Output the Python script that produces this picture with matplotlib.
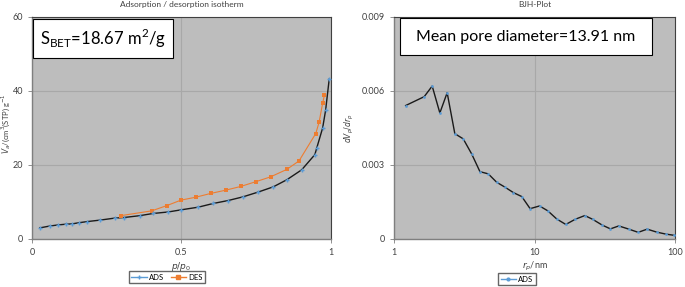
import matplotlib
matplotlib.use("Agg")
import matplotlib.pyplot as plt
from matplotlib.patches import Rectangle
from matplotlib.ticker import FixedLocator, NullLocator, FuncFormatter

plt.rcParams['font.family'] = ['Lato', 'DejaVu Sans']

# adsorption / desorption isotherm
ads_p = [0.026, 0.059, 0.087, 0.113, 0.135, 0.157, 0.184, 0.227, 0.277, 0.307,
         0.36, 0.405, 0.455, 0.5, 0.556, 0.606, 0.656, 0.706, 0.757, 0.807,
         0.852, 0.902, 0.946, 0.952, 0.972, 0.982, 0.994]
ads_v = [3.0, 3.5, 3.8, 4.0, 4.1, 4.4, 4.7, 5.1, 5.65, 5.8,
         6.3, 6.9, 7.3, 7.9, 8.6, 9.6, 10.4, 11.4, 12.7, 14.1,
         16.0, 18.7, 22.8, 24.5, 30.0, 34.8, 43.2]
des_p = [0.296, 0.40, 0.45, 0.498, 0.548, 0.597, 0.648, 0.698, 0.749, 0.798,
         0.852, 0.893, 0.949, 0.96, 0.972, 0.978]
des_v = [6.3, 7.6, 9.0, 10.5, 11.3, 12.3, 13.2, 14.2, 15.5, 16.8,
         18.8, 21.1, 28.5, 31.5, 36.7, 38.9]

# BJH pore size distribution
bjh_r = [1.21, 1.64, 1.87, 2.12, 2.39, 2.71, 3.11, 3.57, 4.09, 4.69,
         5.38, 6.17, 7.08, 8.12, 9.31, 10.86, 12.45, 14.4, 16.7, 19.5,
         22.8, 25.9, 30.2, 34.7, 39.8, 46.9, 54.7, 63.4, 74.0, 85.8, 98.4]
bjh_dv = [0.00541, 0.00577, 0.0062, 0.00511, 0.00593, 0.00427, 0.00406, 0.00345,
          0.00273, 0.00264, 0.0023, 0.0021, 0.00188, 0.00172, 0.00123, 0.00134,
          0.00114, 0.00081, 0.00059, 0.0008, 0.00095, 0.0008, 0.00057, 0.00041,
          0.00053, 0.0004, 0.00027, 0.0004, 0.00028, 0.0002, 0.00015]

bg = "#bdbdbd"
grid_c = "#a8a8a8"
blue = "#5b9bd5"
orange = "#ed7d31"
line_c = "#1a1a1a"
txt_c = "#404040"


def style_axes(ax):
    ax.set_facecolor(bg)
    ax.grid(True, color=grid_c, linewidth=0.8)
    ax.set_axisbelow(True)
    for s in ["left", "bottom"]:
        ax.spines[s].set_color("#7f7f7f")
        ax.spines[s].set_linewidth(1.0)
    for s in ["top", "right"]:
        ax.spines[s].set_color("#404040")
        ax.spines[s].set_linewidth(0.8)
    ax.tick_params(axis="both", labelsize=6.5, colors="#7f7f7f", length=3,
                   width=0.6, direction="out", labelcolor=txt_c)


def label_box(ax, x0, y0, x1, y1, text, size):
    ax.add_patch(Rectangle((x0, y0), x1 - x0, y1 - y0, transform=ax.transAxes,
                           facecolor="white", edgecolor="black", linewidth=0.8, zorder=5))
    ax.text((x0 + x1) / 2, (y0 + y1) / 2, text, transform=ax.transAxes, fontsize=size,
            ha="center", va="center", zorder=6)


fig = plt.figure(figsize=(6.85, 2.87), dpi=100)

ax1 = fig.add_axes([32 / 685, 48 / 287, 299 / 685, 222 / 287])
style_axes(ax1)
ax1.plot(ads_p, ads_v, color=line_c, linewidth=1.0, zorder=2)
ax1.plot(ads_p, ads_v, linestyle="none", marker="+", color=blue, markersize=3.5,
         markeredgewidth=1.0, zorder=3)
ax1.plot(des_p, des_v, color=orange, linewidth=0.8, marker="s", markersize=3,
         markeredgewidth=0, zorder=2)
ax1.set_xlim(0, 1)
ax1.set_ylim(0, 60)
ax1.xaxis.set_major_locator(FixedLocator([0, 0.5, 1]))
ax1.yaxis.set_major_locator(FixedLocator([0, 20, 40, 60]))
ax1.xaxis.set_major_formatter(FuncFormatter(lambda v, p: "%g" % v))
ax1.set_title("Adsorption / desorption isotherm", fontsize=6, color=txt_c, pad=7)
ax1.set_xlabel("$p/p_0$", fontsize=6.5, color=txt_c, labelpad=2)
ax1.set_ylabel("$V_a$/(cm$^3$(STP) g$^{-1}$", fontsize=5.5, color=txt_c)
ax1.yaxis.set_label_coords(-0.062, 0.52)
label_box(ax1, 0.004, 0.815, 0.472, 0.991,
          "S$_\\mathregular{BET}$=18.67 m$^\\mathregular{2}$/g", 12)

h_ads, = ax1.plot([], [], color=blue, linewidth=1.0, marker="+", markersize=3.5)
h_des, = ax1.plot([], [], color=orange, linewidth=1.0, marker="s", markersize=3)
fig.legend([h_ads, h_des], ["ADS", "DES"], loc="center", bbox_to_anchor=(167 / 685, 1 - 277 / 287),
           ncol=2, fontsize=5.5, frameon=True, fancybox=False, edgecolor=txt_c,
           handlelength=2.0, columnspacing=0.9, handletextpad=0.3, borderpad=0.35)

ax2 = fig.add_axes([394 / 685, 48 / 287, 281 / 685, 222 / 287])
style_axes(ax2)
ax2.set_xscale("log")
ax2.plot(bjh_r, bjh_dv, color=line_c, linewidth=1.0, zorder=2)
ax2.plot(bjh_r, bjh_dv, linestyle="none", marker="o", color=blue, markersize=2,
         markeredgewidth=0, zorder=3)
ax2.set_xlim(1, 100)
ax2.set_ylim(0, 0.009)
ax2.xaxis.set_major_locator(FixedLocator([1, 10, 100]))
ax2.xaxis.set_minor_locator(NullLocator())
ax2.xaxis.set_major_formatter(FuncFormatter(lambda v, p: "%g" % v))
ax2.yaxis.set_major_locator(FixedLocator([0, 0.003, 0.006, 0.009]))
ax2.yaxis.set_major_formatter(FuncFormatter(lambda v, p: "0" if v == 0 else "%.3f" % v))
ax2.set_title("BJH-Plot", fontsize=6, color=txt_c, pad=7)
ax2.set_xlabel("$r_p$/nm", fontsize=6.5, color=txt_c, labelpad=2)
ax2.set_ylabel("$dV_p/dr_p$", fontsize=5.5, color=txt_c, labelpad=4)
label_box(ax2, 0.021, 0.829, 0.918, 0.995, "Mean pore diameter=13.91 nm", 11.5)

h_bjh, = ax2.plot([], [], color=blue, linewidth=1.0, marker="o", markersize=2)
fig.legend([h_bjh], ["ADS"], loc="center", bbox_to_anchor=(517 / 685, 1 - 279 / 287),
           fontsize=5.5, frameon=True, fancybox=False, edgecolor=txt_c,
           handlelength=2.0, handletextpad=0.3, borderpad=0.35)

fig.savefig("out.png", dpi=100)
